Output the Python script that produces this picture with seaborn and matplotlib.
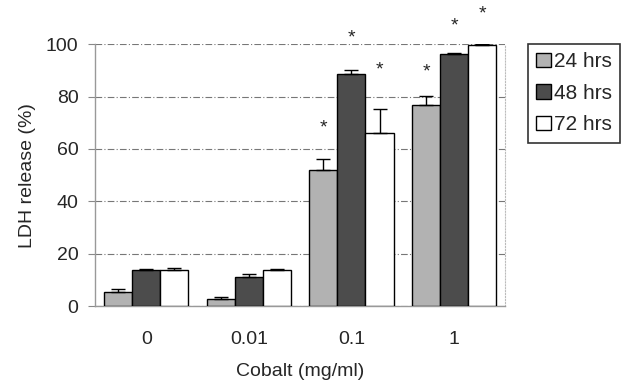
import numpy as np
import pandas as pd
import matplotlib
matplotlib.use('Agg')
import matplotlib.pyplot as plt
import seaborn as sns

# ------------------------
# Data
# ------------------------
concentrations = ['0', '0.01', '0.1', '1']
time_points = ['24 hrs', '48 hrs', '72 hrs']

ldh_24 = [5.3, 2.8, 51.9, 76.7]
ldh_48 = [13.7, 11.0, 88.5, 96.2]
ldh_72 = [13.7, 13.7, 66.1, 99.6]

err_24 = [1.2, 0.5, 4.3, 3.5]
err_48 = [0.3, 1.3, 1.5, 0.6]
err_72 = [0.8, 0.3, 9.3, 0.5]

# asterisk heights (None = no mark)
star_24 = [None, None, 68.0, 89.5]
star_48 = [None, None, 102.5, 107.0]
star_72 = [None, None, 90.0, 111.5]

colors = ['#b2b2b2', '#4c4c4c', '#ffffff']

df = pd.DataFrame({
    'conc': concentrations * 3,
    'time': np.repeat(time_points, len(concentrations)),
    'ldh': ldh_24 + ldh_48 + ldh_72,
})

sns.set_style('white')
plt.rcParams['font.family'] = ['Liberation Sans', 'DejaVu Sans']

fig = plt.figure(figsize=(6.34, 3.84), dpi=100)
ax = fig.add_axes([0.150, 0.203, 0.647, 0.682])

sns.barplot(data=df, x='conc', y='ldh', hue='time', order=concentrations,
            hue_order=time_points, palette=colors, errorbar=None,
            width=0.82, edgecolor='black', linewidth=1.0, saturation=1,
            ax=ax, zorder=3)

errs = [err_24, err_48, err_72]
stars = [star_24, star_48, star_72]
for cont, err, star in zip(ax.containers, errs, stars):
    for bar, e, s in zip(cont, err, star):
        xc = bar.get_x() + bar.get_width() / 2
        h = bar.get_height()
        ax.errorbar(xc, h, yerr=[[0], [e]], fmt='none', ecolor='black',
                    elinewidth=1.0, capsize=5, capthick=1.0, zorder=4)
        if s is not None:
            ax.text(xc, s, '*', ha='center', va='center', fontsize=14,
                    clip_on=False)

ax.set_ylim(0, 100)
ax.set_xlim(-0.5, 3.5)
ax.set_yticks([0, 20, 40, 60, 80, 100])
ax.yaxis.grid(True, color='#777777', linestyle=(0, (6, 2, 1, 2)), linewidth=0.8)
ax.set_axisbelow(True)

# category boundary ticks like a spreadsheet chart
ax.set_xticks([-0.5, 0.5, 1.5, 2.5, 3.5], minor=True)
ax.tick_params(axis='x', which='major', length=0, pad=18, labelsize=14)
ax.tick_params(axis='x', which='minor', length=5, color='#888888', direction='inout')
ax.tick_params(axis='y', length=5, color='#888888', direction='out', left=True,
               labelsize=14, pad=7)

for side in ['left', 'bottom']:
    ax.spines[side].set_color('#999999')
    ax.spines[side].set_linewidth(1.0)
ax.spines['right'].set_color('#bbbbbb')
ax.spines['right'].set_linestyle(':')
ax.spines['top'].set_visible(False)

ax.set_xlabel('Cobalt (mg/ml)', fontsize=14, labelpad=11)
ax.set_ylabel('LDH release (%)', fontsize=14, labelpad=7)

leg = ax.legend(loc='upper left', bbox_to_anchor=(528 / 634, 1 - 44 / 384),
                bbox_transform=fig.transFigure, fontsize=15, frameon=True,
                fancybox=False, edgecolor='black', handlelength=0.7,
                handleheight=0.7, handletextpad=0.15, borderpad=0.4,
                labelspacing=0.6, borderaxespad=0)
leg.get_frame().set_linewidth(1.2)

fig.savefig('out.png', dpi=100)
